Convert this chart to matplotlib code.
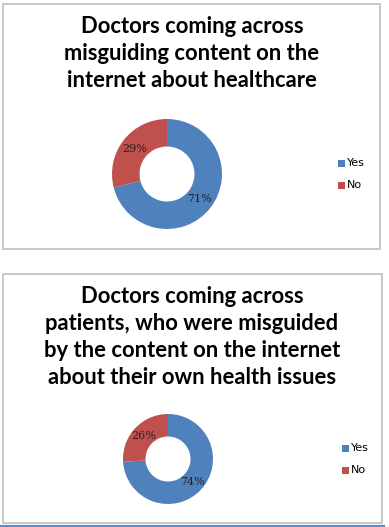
import matplotlib
matplotlib.use("Agg")
import matplotlib.pyplot as plt
from matplotlib.patches import Rectangle
from matplotlib.lines import Line2D

W, H = 389, 527
DPI = 100

categories = ["Yes", "No"]
values_top = [71, 29]
values_bottom = [74, 26]
title_top = ["Doctors coming across", "misguiding content on the", "internet about healthcare"]
title_bottom = ["Doctors coming across", "patients, who were misguided",
                "by the content on the internet", "about their own health issues"]
colors = ["#4F81BD", "#C0504D"]

fig = plt.figure(figsize=(W / DPI, H / DPI), dpi=DPI)
fig.patch.set_facecolor("white")

def fx(px):
    return px / W

def fy(py):
    return 1 - py / H

def box(x0, y0, x1, y1):
    fig.add_artist(Rectangle((fx(x0), fy(y1)), fx(x1) - fx(x0), fy(y0) - fy(y1),
                             transform=fig.transFigure, fill=False,
                             edgecolor="#C4C4C4", linewidth=1.3))

def donut(cx, cy, r, vals, title_lines, base_y, leg_x, leg_y):
    ax = fig.add_axes([fx(cx - r), fy(cy + r), fx(2 * r), (2 * r) / H])
    ax.pie(vals, colors=colors, startangle=90, counterclock=False,
           wedgeprops=dict(width=0.5, edgecolor="none"),
           autopct=lambda p: f"{p:.0f}%", pctdistance=0.75,
           textprops=dict(fontsize=8, color="#222222", family="DejaVu Serif"))
    ax.set_xlim(-1, 1)
    ax.set_ylim(-1, 1)
    ax.set_aspect("auto")
    ax.axis("off")
    for i, line in enumerate(title_lines):
        fig.text(fx(192), fy(base_y + i * 27), line, ha="center", va="baseline",
                 fontsize=15.8, fontweight="bold", family="Lato", color="black")
    for i, (lab, c) in enumerate(zip(categories, colors)):
        yy = leg_y + i * 22
        fig.add_artist(Rectangle((fx(leg_x), fy(yy + 3.5)), fx(7), 7 / H,
                                 transform=fig.transFigure, facecolor=c,
                                 edgecolor="none"))
        fig.text(fx(leg_x + 9), fy(yy), lab, ha="left", va="center",
                 fontsize=8, family="DejaVu Sans", color="black")

box(3, 4, 380, 249)
box(3, 274, 382, 523)

donut(167, 174, 55, values_top, title_top, 33, 338, 163)
donut(168, 459, 45, values_bottom, title_bottom, 303, 342, 448)

fig.add_artist(Line2D([0, fx(384)], [fy(525.5), fy(525.5)], transform=fig.transFigure,
                      color="#5B8BD0", linewidth=1.6))

fig.savefig("out.png", dpi=DPI, facecolor="white")
